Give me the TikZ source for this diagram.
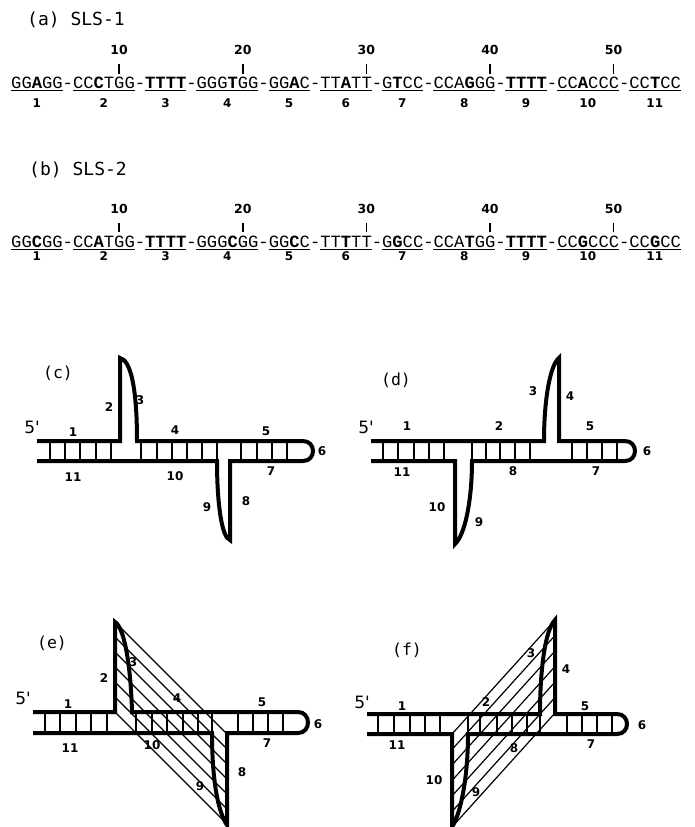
\documentclass[tikz,border=0pt]{standalone}
\usepackage{fontspec}
\usepackage{tikz}
\newfontfamily\seqfont{Liberation Mono}
\newfontfamily\capfont{DejaVu Sans Mono}
\newfontfamily\primefont{DejaVu Sans}
\newfontfamily\numfont{DejaVu Sans}

\begin{document}
\begin{tikzpicture}[x=1pt,y=-1pt]
	\tikzstyle{Strand}	= [line width=4pt]
	\tikzstyle{Rung}	= [line width=1.7pt]
	\tikzstyle{Hatch}	= [line width=1.2pt]
	\tikzstyle{Tick}	= [line width=1.5pt]
	\tikzstyle{ULine}	= [line width=1.3pt]
	\tikzstyle{Title}	= [inner sep=0pt, font=\capfont\fontsize{18}{20}\selectfont]
	\tikzstyle{Panel}	= [inner sep=0pt, font=\capfont\fontsize{16.5}{18}\selectfont]
	\tikzstyle{Prime}	= [inner sep=0pt, font=\primefont\fontsize{17}{19}\selectfont]
	\tikzstyle{Lbl}		= [inner sep=0pt, font=\numfont\bfseries\fontsize{12}{14}\selectfont]
	\tikzstyle{TickNo}	= [inner sep=0pt, font=\numfont\bfseries\fontsize{12.5}{15}\selectfont]
	\tikzstyle{Seq}		= [inner sep=0pt, anchor=base west, font=\seqfont\fontsize{17.17}{19}\selectfont]

	\useasboundingbox (0,0) rectangle (694,827);

	% sequence SLS-1
	\node (ta) at (76,20) [Title] {(a) SLS-1};
	\node (seqA) at (11,88) [Seq] {GG\textbf{A}GG-CC\textbf{C}TGG-\textbf{TTTT}-GGG\textbf{T}GG-GG\textbf{A}C-TT\textbf{A}TT-G\textbf{T}CC-CCA\textbf{G}GG-\textbf{TTTT}-CC\textbf{A}CCC-CC\textbf{T}CC};
	\foreach \s/\n/\l in {0/5/1,6/6/2,13/4/3,18/6/4,25/4/5,30/5/6,36/4/7,41/6/8,48/4/9,53/6/10,60/5/11} {
		\draw [ULine] (11+\s*10.3,90.5) -- (11+\s*10.3+\n*10.3,90.5);
		\node (sa\l) at (11+\s*10.3+\n*5.15,103) [Lbl] {\l};
	}
	\foreach \c/\t in {10/10,22/20,34/30,46/40,58/50} {
		\draw [Tick] (16.15+\c*10.3,64) -- (16.15+\c*10.3,74);
		\node (pa\t) at (16.15+\c*10.3,50) [TickNo] {\t};
	}

	% sequence SLS-2
	\node (tb) at (78,170) [Title] {(b) SLS-2};
	\node (seqB) at (11,247) [Seq] {GG\textbf{C}GG-CC\textbf{A}TGG-\textbf{TTTT}-GGG\textbf{C}GG-GG\textbf{C}C-TT\textbf{T}TT-G\textbf{G}CC-CCA\textbf{T}GG-\textbf{TTTT}-CC\textbf{G}CCC-CC\textbf{G}CC};
	\foreach \s/\n/\l in {0/5/1,6/6/2,13/4/3,18/6/4,25/4/5,30/5/6,36/4/7,41/6/8,48/4/9,53/6/10,60/5/11} {
		\draw [ULine] (11+\s*10.3,249.5) -- (11+\s*10.3+\n*10.3,249.5);
		\node (sb\l) at (11+\s*10.3+\n*5.15,256) [Lbl] {\l};
	}
	\foreach \c/\t in {10/10,22/20,34/30,46/40,58/50} {
		\draw [Tick] (16.15+\c*10.3,223) -- (16.15+\c*10.3,232);
		\node (pb\t) at (16.15+\c*10.3,209) [TickNo] {\t};
	}

	% (c) cruciform, hairpins 2-3 and 8-9
	\node (tc) at (58,373) [Panel] {(c)};
	\foreach \x in {50,65,80,96,111,141,157,172,187,202,217,241,257,272,287}
		\draw [Rung] (\x,441) -- (\x,461);
	\draw [Strand] (37,441) -- (120,441) -- (120,358) .. controls (130,360) and (137,385) .. (137,441)
		-- (303,441) .. controls (316.3,441) and (316.3,461) .. (303,461)
		-- (230,461) -- (230,540) .. controls (222,538) and (217,505) .. (217,461) -- (37,461);
	\node (c5) at (32,427) [Prime] {5'};
	\node (c1) at (73,432) [Lbl] {1};
	\node (c2) at (109,407) [Lbl] {2};
	\node (c3) at (140,400) [Lbl] {3};
	\node (c4) at (175,430) [Lbl] {4};
	\node (c5b) at (266,431) [Lbl] {5};
	\node (c6) at (322,451) [Lbl] {6};
	\node (c7) at (271,471) [Lbl] {7};
	\node (c8) at (246,501) [Lbl] {8};
	\node (c9) at (207,507) [Lbl] {9};
	\node (c10) at (175,476) [Lbl] {10};
	\node (c11) at (73,477) [Lbl] {11};

	% (d) cruciform, hairpins 3-4 and 9-10
	\node (td) at (396,380) [Panel] {(d)};
	\foreach \x in {383,398,414,429,444,472,486,500,515,530,572,587,602,617}
		\draw [Rung] (\x,441) -- (\x,461);
	\draw [Strand] (371,441) -- (544,441) .. controls (544,400) and (550,365) .. (559,358) -- (559,441)
		-- (625,441) .. controls (638.3,441) and (638.3,461) .. (625,461)
		-- (472,461) .. controls (472,500) and (465,535) .. (455,544) -- (455,461) -- (371,461);
	\node (d5) at (366,427) [Prime] {5'};
	\node (d1) at (407,426) [Lbl] {1};
	\node (d2) at (499,426) [Lbl] {2};
	\node (d3) at (533,391) [Lbl] {3};
	\node (d4) at (570,396) [Lbl] {4};
	\node (d5b) at (590,426) [Lbl] {5};
	\node (d6) at (647,451) [Lbl] {6};
	\node (d7) at (596,471) [Lbl] {7};
	\node (d8) at (513,471) [Lbl] {8};
	\node (d9) at (479,522) [Lbl] {9};
	\node (d10) at (437,507) [Lbl] {10};
	\node (d11) at (402,472) [Lbl] {11};

	% (e) hatched form of (c)
	\node (te) at (52,643) [Panel] {(e)};
	\foreach \x in {45,60,76,91,107,136,152,167,183,198,212,238,253,268,283}
		\draw [Rung] (\x,712) -- (\x,733);
	\foreach \k in {0,...,6}
		\draw [Hatch] (115,622+15*\k) -- (227,734+15*\k);
	\draw [Strand] (33,712) -- (115,712) -- (115,622) .. controls (125,628) and (131,670) .. (132,712)
		-- (298,712) .. controls (311.3,712) and (311.3,733) .. (298,733)
		-- (227,733) -- (227,825) .. controls (218,812) and (212,780) .. (212,733) -- (33,733);
	\node (e5) at (23,698) [Prime] {5'};
	\node (e1) at (68,704) [Lbl] {1};
	\node (e2) at (104,678) [Lbl] {2};
	\node (e3) at (133,662) [Lbl] {3};
	\node (e4) at (177,698) [Lbl] {4};
	\node (e5b) at (262,702) [Lbl] {5};
	\node (e6) at (318,724) [Lbl] {6};
	\node (e7) at (267,743) [Lbl] {7};
	\node (e8) at (242,772) [Lbl] {8};
	\node (e9) at (200,786) [Lbl] {9};
	\node (e10) at (152,745) [Lbl] {10};
	\node (e11) at (70,748) [Lbl] {11};

	% (f) hatched form of (d)
	\node (tf) at (407,650) [Panel] {(f)};
	\foreach \x in {378,394,410,425,440,468,480,497,512,527,540,567,582,597,612}
		\draw [Rung] (\x,714) -- (\x,734);
	\foreach \k in {0,...,6}
		\draw [Hatch] (452,734+15.5*\k) -- (555,620+15.5*\k);
	\draw [Strand] (367,714) -- (540,714) .. controls (540,670) and (545,630) .. (555,620) -- (555,714)
		-- (617,714) .. controls (630.3,714) and (630.3,734) .. (617,734)
		-- (468,734) .. controls (468,780) and (460,815) .. (452,827) -- (452,734) -- (367,734);
	\node (f5) at (362,702) [Prime] {5'};
	\node (f1) at (402,706) [Lbl] {1};
	\node (f2) at (486,702) [Lbl] {2};
	\node (f3) at (531,653) [Lbl] {3};
	\node (f4) at (566,669) [Lbl] {4};
	\node (f5b) at (585,706) [Lbl] {5};
	\node (f6) at (642,725) [Lbl] {6};
	\node (f7) at (591,744) [Lbl] {7};
	\node (f8) at (514,748) [Lbl] {8};
	\node (f9) at (476,792) [Lbl] {9};
	\node (f10) at (434,780) [Lbl] {10};
	\node (f11) at (397,745) [Lbl] {11};
\end{tikzpicture}
\end{document}
